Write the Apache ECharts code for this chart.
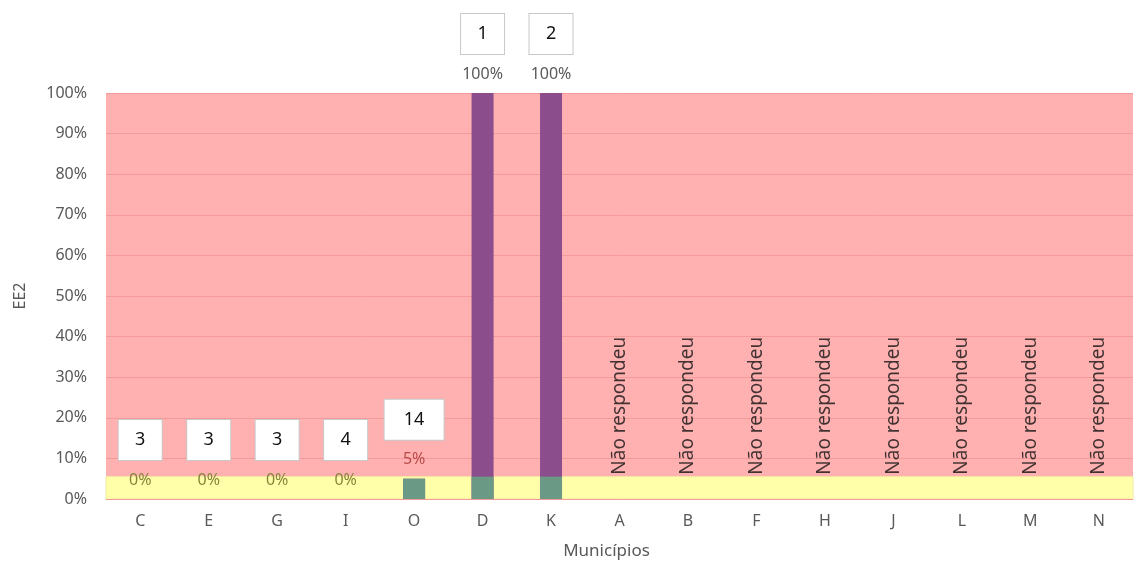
<!DOCTYPE html>
<html>
<head>
<meta charset="utf-8">
<script src="https://cdn.jsdelivr.net/npm/echarts@6/dist/echarts.min.js"></script>
<style>
  html, body { margin: 0; padding: 0; background: #fff; }
  #chart { width: 1134px; height: 561px; }
</style>
</head>
<body>
<div id="chart"></div>
<script>
// Municípios e percentual EE2
const municipios = ['C', 'E', 'G', 'I', 'O', 'D', 'K', 'A', 'B', 'F', 'H', 'J', 'L', 'M', 'N'];
const percentuais = [0, 0, 0, 0, 5, 100, 100, null, null, null, null, null, null, null, null];
const respostas = [3, 3, 3, 4, 14, 1, 2, null, null, null, null, null, null, null, null];
const semResposta = [false, false, false, false, false, false, false, true, true, true, true, true, true, true, true];
const faixaAmarela = [0, 5.5];
const faixaRosa = [5.5, 100];
const textoSemResposta = 'Não respondeu';

const fonte = '"Noto Sans", "Open Sans", sans-serif';
const limite = faixaAmarela[1];

function corPercentual(v) {
  if (v === 0) return '#85853A';
  if (v <= limite) return '#B94A48';
  return '#595959';
}

const barrasTotais = percentuais.map(function (v) {
  if (v === null) return null;
  return { value: v, label: { rich: { pct: { color: corPercentual(v) } } } };
});
const barrasFaixa = percentuais.map(function (v) {
  return v === null ? null : Math.min(v, limite);
});
const marcasSemResposta = semResposta.map(function (s) {
  return s ? limite : null;
});

const chart = echarts.init(document.getElementById('chart'));
chart.setOption({
  animation: false,
  grid: { left: 106, right: 1, top: 93, bottom: 62, outerBoundsMode: 'none', containLabel: false },
  xAxis: {
    type: 'category',
    data: municipios,
    axisTick: { show: false },
    axisLine: { show: true, lineStyle: { color: '#EEE6A2', width: 1 } },
    axisLabel: { color: '#595959', fontSize: 16, fontFamily: fonte, margin: 14 },
    name: 'Municípios',
    nameLocation: 'middle',
    nameGap: 44,
    nameTextStyle: { color: '#595959', fontSize: 17, fontFamily: fonte, padding: [0, 26, 0, 0] }
  },
  yAxis: {
    type: 'value',
    min: 0,
    max: 100,
    interval: 10,
    z: 1,
    axisLine: { show: false },
    axisTick: { show: false },
    axisLabel: { formatter: '{value}%', color: '#595959', fontSize: 16, fontFamily: fonte, margin: 19 },
    splitLine: { show: true, lineStyle: { color: '#F39B9B', width: 1 } },
    name: 'EE2',
    nameLocation: 'middle',
    nameGap: 78,
    nameTextStyle: { color: '#595959', fontSize: 16, fontFamily: fonte }
  },
  series: [
    {
      name: 'faixas',
      type: 'line',
      data: [],
      silent: true,
      z: 0,
      markArea: {
        silent: true,
        z: 0,
        data: [
          [{ yAxis: faixaRosa[0], itemStyle: { color: '#FFB1B1' } }, { yAxis: faixaRosa[1] }],
          [{ yAxis: faixaAmarela[0], itemStyle: { color: '#FFFFAA', borderColor: '#F2EA9C', borderWidth: 1 } }, { yAxis: faixaAmarela[1] }]
        ]
      }
    },
    {
      name: 'Percentual',
      type: 'bar',
      z: 3,
      barWidth: 22,
      data: barrasTotais,
      itemStyle: { color: '#8B4D8B' },
      label: {
        show: true,
        position: 'top',
        distance: 0,
        formatter: function (p) {
          const n = respostas[p.dataIndex];
          const estilo = String(n).length > 1 ? 'caixaLarga' : 'caixa';
          return '{' + estilo + '|' + n + '}\n{pct|' + p.value + '%}';
        },
        rich: {
          caixa: {
            width: 43, height: 40, lineHeight: 42, align: 'center', verticalAlign: 'middle',
            backgroundColor: '#FFFFFF', borderColor: '#C8C8C8', borderWidth: 1,
            fontSize: 18, color: '#111111', fontFamily: fonte
          },
          caixaLarga: {
            width: 59, height: 40, lineHeight: 42, align: 'center', verticalAlign: 'middle',
            backgroundColor: '#FFFFFF', borderColor: '#C8C8C8', borderWidth: 1,
            fontSize: 18, color: '#111111', fontFamily: fonte
          },
          pct: { fontSize: 16, lineHeight: 38, align: 'center', fontFamily: fonte }
        }
      }
    },
    {
      name: 'Dentro da faixa',
      type: 'bar',
      z: 4,
      barWidth: 22,
      barGap: '-100%',
      data: barrasFaixa,
      itemStyle: { color: '#6A9A86' }
    },
    {
      name: 'Sem resposta',
      type: 'scatter',
      z: 5,
      symbolSize: 0,
      data: marcasSemResposta,
      label: {
        show: true,
        position: 'top',
        distance: 2,
        rotate: 90,
        align: 'left',
        verticalAlign: 'middle',
        formatter: textoSemResposta,
        color: '#111111',
        fontSize: 19,
        fontFamily: fonte
      }
    }
  ]
});
</script>
</body>
</html>
